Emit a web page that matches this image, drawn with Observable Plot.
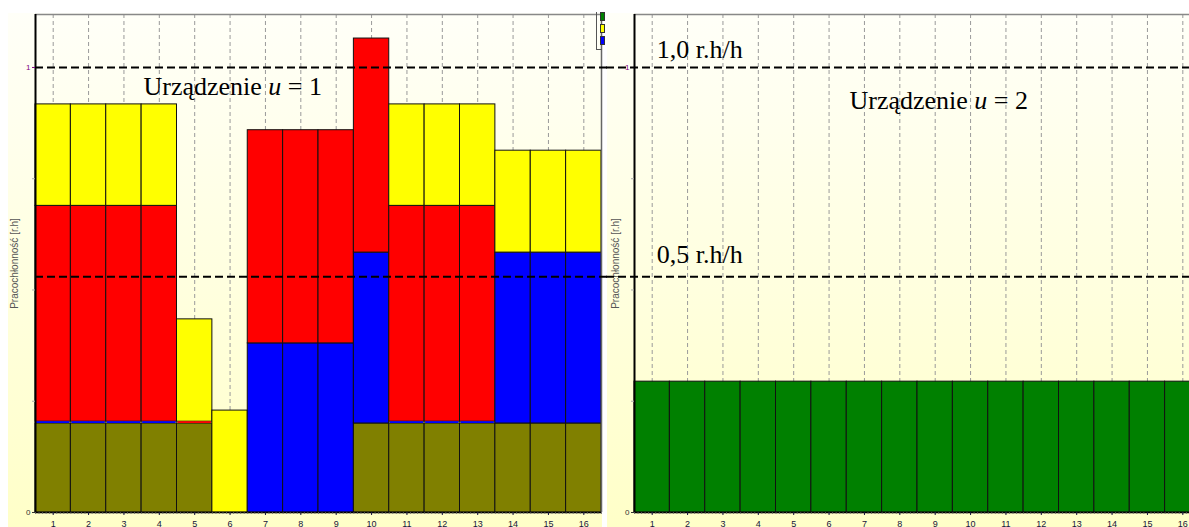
<!DOCTYPE html>
<html><head><meta charset="utf-8">
<script src="https://cdn.jsdelivr.net/npm/d3@7"></script>
<script src="https://cdn.jsdelivr.net/npm/@observablehq/plot@0.6"></script>
<style>
html,body{margin:0;padding:0;background:#fff;}
#wrap{position:relative;width:1189px;height:527px;overflow:hidden;background:#fff;}
.bg{position:absolute;top:13px;height:514px;background:linear-gradient(#fffff8,#ffffc8);}
#p1,#p2{position:absolute;top:0;}
#p1{left:0;width:606px;}
#p2{left:606px;width:600px;}
svg{max-width:none !important;overflow:visible;}
#legend{position:absolute;left:596px;top:12px;width:5px;height:37px;border-left:1px solid #555;border-bottom:1px solid #555;}
#legend div{position:absolute;left:3px;width:3px;border:1px solid #333;}
</style></head><body>
<div id="wrap">
<div class="bg" style="left:8px;width:594px"></div>
<div class="bg" style="left:607px;width:582px"></div>
<div id="p1"></div><div id="p2"></div>
<div id="legend"></div>
</div>
<script>
// ---- data ----
const periods = [1,2,3,4,5,6,7,8,9,10,11,12,13,14,15,16];
const seriesNames = ["Zadanie 1","Zadanie 2","Zadanie 3","Zadanie 4"]; // bottom -> top
const seriesColors = ["#808000","#0000ff","#ff0000","#ffff00"];
const olive  = [0.2,0.2,0.2,0.2,0.2,0,0,0,0,0.2,0.2,0.2,0.2,0.2,0.2,0.2];
const blue   = [0.004,0.004,0.004,0.004,0,0,0.38,0.38,0.38,0.384,0.004,0.004,0.004,0.384,0.384,0.384];
const red    = [0.485,0.485,0.485,0.485,0.004,0,0.479,0.479,0.479,0.481,0.485,0.485,0.485,0,0,0];
const yellow = [0.228,0.228,0.228,0.228,0.23,0.229,0,0,0,0,0.228,0.228,0.228,0.229,0.229,0.229];
const u2Name = "Zadanie 5";
const u2Color = "#008000";
const green  = [0.294,0.294,0.294,0.294,0.294,0.294,0.294,0.294,0.294,0.294,0.294,0.294,0.294,0.294,0.294,0.294];
const refValues = [1.0, 0.53];
const refLabels = ["1,0 r.h/h", "0,5 r.h/h"];
const yLabel = "Pracochłonność [r.h]";
const panelTitles = ["Urządzenie u = 1", "Urządzenie u = 2"];
const legendColors = ["#008000","#ffff00","#0000ff"];
const yMax = 1.119;

function stackRows(arrs, names) {
  const rows = [];
  periods.forEach((p, i) => {
    let acc = 0;
    arrs.forEach((vals, k) => {
      const v = vals[i];
      if (v > 0) rows.push({p, s: names[k], y1: acc, y2: acc + v, v});
      acc += v;
    });
  });
  return rows;
}

const noLabel = () => "";

function commonMarks(rows, dxLabel) {
  return [
    Plot.ruleX(periods, {x: d => d, stroke: "#9a9a9a", strokeDasharray: "4,3", strokeWidth: 1}),
    Plot.rect(rows.filter(d => d.v >= 0.01), {x1: d => d.p - 0.5, x2: d => d.p + 0.5, y1: "y1", y2: "y2", fill: "s", stroke: "#111", strokeWidth: 1}),
    Plot.rect(rows.filter(d => d.v < 0.01), {x1: d => d.p - 0.5 + 0.03, x2: d => d.p + 0.5 - 0.03, y1: "y1", y2: "y2", fill: "s"}),
    Plot.ruleY([yMax], {stroke: "#888", strokeWidth: 1.5}),
    Plot.ruleY([0], {stroke: "#000", strokeWidth: 1.5}),
    Plot.ruleX([0.5], {stroke: "#000", strokeWidth: 2}),
    Plot.axisX({interval: 0.1, tickFormat: noLabel, tickSize: 2, stroke: "#666", strokeWidth: 0.8}),
    Plot.axisX({ticks: periods, tickFormat: d => d, tickSize: 3, tickPadding: 5, fontSize: 9, color: "#14143c"}),
    Plot.axisY({ticks: [0.25, 0.5, 0.75], tickFormat: noLabel, tickSize: 3, stroke: "#aaa"}),
    Plot.axisY({ticks: [0], tickFormat: d => d, tickSize: 3, tickPadding: 2, fontSize: 8, color: "#333"}),
    Plot.axisY({ticks: [1], tickFormat: d => d, tickSize: 3, tickPadding: 2, fontSize: 8, color: "#800080"}),
    Plot.text([yLabel], {frameAnchor: "left", rotate: -90, dx: dxLabel, text: d => d, fontSize: 10, fill: "#555", textAnchor: "middle"})
  ];
}

const serif = "'Liberation Serif', 'Times New Roman', serif";
const baseStyle = {background: "transparent", fontFamily: "'Liberation Sans', Arial, sans-serif", overflow: "visible", maxWidth: "none"};

const rows1 = stackRows([olive, blue, red, yellow], seriesNames);
const p1 = Plot.plot({
  width: 606, height: 527, marginLeft: 35, marginRight: 5, marginTop: 14, marginBottom: 15,
  style: baseStyle,
  x: {domain: [0.5, 16.5]},
  y: {domain: [0, yMax]},
  color: {domain: seriesNames, range: seriesColors},
  marks: [
    ...commonMarks(rows1, -21),
    Plot.ruleX([16.5], {stroke: "#666", strokeWidth: 1.5}),
    Plot.ruleY(refValues, {stroke: "#000", strokeWidth: 2, strokeDasharray: "8,4", insetRight: -6}),
    Plot.text([panelTitles[0]], {x: 3.553, y: 0.937, text: d => d, textAnchor: "start", lineAnchor: "bottom", fontSize: 26, fontFamily: serif, fill: "#000"})
  ]
});
document.getElementById("p1").appendChild(p1);

const rows2 = stackRows([green], [u2Name]);
const p2 = Plot.plot({
  width: 600, height: 527, marginLeft: 28, marginRight: 6, marginTop: 14, marginBottom: 15,
  style: baseStyle,
  x: {domain: [0.5, 16.5]},
  y: {domain: [0, yMax]},
  color: {domain: [u2Name], range: [u2Color]},
  marks: [
    ...commonMarks(rows2, -19),
    Plot.ruleY(refValues, {stroke: "#000", strokeWidth: 2, strokeDasharray: "8,4", insetLeft: -28}),
    Plot.text(refValues, {x: 1.13, y: (d, i) => [1.022, 0.56][i], text: (d, i) => refLabels[i], textAnchor: "start", lineAnchor: "bottom", fontSize: 26, fontFamily: serif, fill: "#000"}),
    Plot.text([panelTitles[1]], {x: 6.578, y: 0.906, text: d => d, textAnchor: "start", lineAnchor: "bottom", fontSize: 26, fontFamily: serif, fill: "#000"})
  ]
});
document.getElementById("p2").appendChild(p2);

// italic "u" in panel titles
[p1, p2].forEach(svg => {
  d3.select(svg).selectAll("text").each(function() {
    const m = (this.textContent || "").match(/^(Urządzenie) u (= \d)$/);
    if (m && this.childElementCount === 0) {
      const el = d3.select(this);
      el.text(null);
      el.append("tspan").text(m[1] + " ");
      el.append("tspan").attr("font-style", "italic").text("u");
      el.append("tspan").text(" " + m[2]);
    }
  });
});

// small legend box
const lg = d3.select("#legend");
legendColors.forEach((c, i) => {
  lg.append("div").style("top", (i * 12) + "px").style("height", "7px").style("background", c);
});
</script>
</body></html>
